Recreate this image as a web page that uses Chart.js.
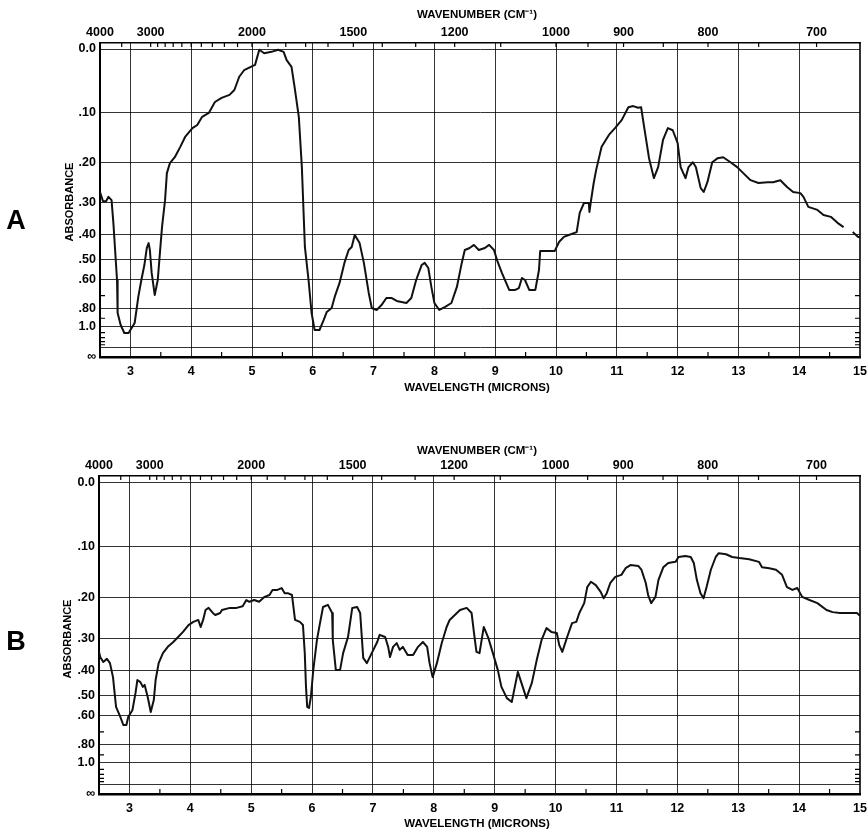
<!DOCTYPE html>
<html>
<head>
<meta charset="utf-8">
<script src="https://cdn.jsdelivr.net/npm/chart.js@4.4.1/dist/chart.umd.min.js"></script>
<style>
  html, body { margin: 0; padding: 0; background: #fff; }
  #wrap { position: relative; width: 868px; height: 833px; }
  canvas { position: absolute; left: 0; }
  #chartA { top: 0; }
  #chartB { top: 420px; }
</style>
</head>
<body>
<div id="wrap">
  <canvas id="chartA" width="868" height="420"></canvas>
  <canvas id="chartB" width="868" height="413"></canvas>
</div>
<script>
// spectrum A (wavelength in microns, absorbance)
const wavelengthA = [
  2.50, 2.55, 2.60, 2.64, 2.69, 2.72, 2.78, 2.79, 2.84, 2.90,
  2.97, 3.03, 3.07, 3.13, 3.18, 3.23, 3.27, 3.30, 3.32, 3.35,
  3.40, 3.45, 3.48, 3.52, 3.57, 3.60, 3.65, 3.73, 3.82, 3.90,
  4.02, 4.10, 4.18, 4.29, 4.39, 4.50, 4.63, 4.71, 4.79, 4.87,
  4.98, 5.05, 5.12, 5.20, 5.32, 5.43, 5.52, 5.57, 5.65, 5.70,
  5.77, 5.82, 5.87, 5.93, 5.98, 6.03, 6.11, 6.18, 6.23, 6.31,
  6.36, 6.44, 6.52, 6.59, 6.64, 6.69, 6.72, 6.77, 6.84, 6.92,
  6.97, 7.05, 7.13, 7.21, 7.30, 7.38, 7.46, 7.54, 7.62, 7.70,
  7.79, 7.84, 7.90, 7.95, 8.00, 8.08, 8.17, 8.28, 8.37, 8.45,
  8.50, 8.58, 8.65, 8.73, 8.83, 8.90, 8.98, 9.03, 9.11, 9.23,
  9.33, 9.39, 9.44, 9.49, 9.56, 9.66, 9.72, 9.74, 9.89, 9.98,
  10.05, 10.13, 10.21, 10.34, 10.39, 10.46, 10.54, 10.55, 10.57, 10.62,
  10.66, 10.75, 10.87, 10.97, 11.08, 11.19, 11.27, 11.35, 11.40, 11.45,
  11.53, 11.61, 11.68, 11.76, 11.84, 11.92, 12.00, 12.05, 12.13, 12.18,
  12.25, 12.30, 12.38, 12.43, 12.49, 12.57, 12.66, 12.75, 12.87, 12.98,
  13.08, 13.20, 13.33, 13.48, 13.57, 13.69, 13.80, 13.90, 14.02, 14.07,
  14.15, 14.30, 14.40, 14.52, 14.63, 14.73, 14.80, 14.88, 14.97, 15.00
];
const absorbanceA = [
  0.271, 0.296, 0.296, 0.284, 0.293, 0.361, 0.602, 0.845, 0.983, 1.108,
  1.108, 1.011, 0.957, 0.710, 0.602, 0.525, 0.451, 0.432, 0.459, 0.564,
  0.696, 0.602, 0.489, 0.375, 0.293, 0.224, 0.201, 0.188, 0.166, 0.146,
  0.129, 0.123, 0.108, 0.101, 0.082, 0.075, 0.070, 0.062, 0.041, 0.031,
  0.026, 0.023, 0.001, 0.006, 0.004, 0.001, 0.004, 0.016, 0.026, 0.057,
  0.108, 0.210, 0.447, 0.602, 0.845, 1.057, 1.057, 0.920, 0.835, 0.798,
  0.710, 0.619, 0.515, 0.459, 0.447, 0.402, 0.413, 0.432, 0.515, 0.682,
  0.798, 0.816, 0.773, 0.718, 0.718, 0.740, 0.748, 0.756, 0.718, 0.602,
  0.525, 0.515, 0.539, 0.643, 0.756, 0.816, 0.790, 0.756, 0.643, 0.515,
  0.459, 0.451, 0.439, 0.459, 0.451, 0.439, 0.459, 0.502, 0.564, 0.662,
  0.662, 0.650, 0.591, 0.602, 0.662, 0.662, 0.549, 0.463, 0.463, 0.463,
  0.428, 0.409, 0.402, 0.392, 0.330, 0.301, 0.301, 0.327, 0.301, 0.248,
  0.217, 0.166, 0.142, 0.129, 0.114, 0.091, 0.089, 0.092, 0.091, 0.127,
  0.190, 0.236, 0.210, 0.152, 0.129, 0.133, 0.158, 0.210, 0.236, 0.210,
  0.199, 0.210, 0.261, 0.271, 0.246, 0.199, 0.190, 0.188, 0.199, 0.210,
  0.224, 0.241, 0.248, 0.246, 0.246, 0.241, 0.258, 0.271, 0.274, 0.284,
  0.312, 0.321, 0.336, 0.342, 0.361, 0.375, null, 0.392, 0.409, 0.409
];

// spectrum B
const wavelengthB = [
  2.50, 2.52, 2.57, 2.63, 2.68, 2.73, 2.78, 2.85, 2.90, 2.95,
  2.98, 3.05, 3.10, 3.13, 3.18, 3.22, 3.25, 3.30, 3.35, 3.40,
  3.43, 3.48, 3.55, 3.63, 3.72, 3.80, 3.88, 3.97, 4.05, 4.13,
  4.17, 4.21, 4.25, 4.30, 4.37, 4.41, 4.49, 4.52, 4.65, 4.76,
  4.86, 4.92, 4.97, 5.05, 5.13, 5.22, 5.30, 5.35, 5.43, 5.50,
  5.55, 5.60, 5.67, 5.72, 5.80, 5.85, 5.88, 5.90, 5.92, 5.95,
  5.98, 6.02, 6.08, 6.13, 6.18, 6.26, 6.33, 6.34, 6.39, 6.46,
  6.51, 6.59, 6.66, 6.74, 6.79, 6.82, 6.84, 6.90, 6.98, 7.07,
  7.11, 7.20, 7.25, 7.28, 7.33, 7.39, 7.44, 7.49, 7.57, 7.66,
  7.74, 7.82, 7.89, 7.93, 7.98, 8.05, 8.13, 8.21, 8.26, 8.43,
  8.54, 8.62, 8.66, 8.70, 8.75, 8.82, 8.89, 8.97, 9.05, 9.11,
  9.20, 9.28, 9.33, 9.38, 9.46, 9.52, 9.61, 9.69, 9.77, 9.85,
  9.93, 10.02, 10.06, 10.11, 10.19, 10.27, 10.34, 10.39, 10.47, 10.52,
  10.58, 10.66, 10.74, 10.79, 10.84, 10.90, 10.98, 11.08, 11.15, 11.23,
  11.36, 11.41, 11.48, 11.52, 11.57, 11.64, 11.69, 11.77, 11.85, 11.97,
  12.02, 12.13, 12.22, 12.27, 12.32, 12.38, 12.43, 12.48, 12.55, 12.63,
  12.68, 12.80, 12.90, 13.02, 13.18, 13.34, 13.39, 13.51, 13.62, 13.72,
  13.80, 13.89, 13.97, 14.05, 14.17, 14.30, 14.45, 14.55, 14.67, 14.83,
  14.95, 15.00
];
const absorbanceB = [
  0.340, 0.356, 0.372, 0.362, 0.376, 0.425, 0.553, 0.606, 0.654, 0.654,
  0.606, 0.568, 0.488, 0.436, 0.444, 0.463, 0.455, 0.506, 0.579, 0.520,
  0.436, 0.376, 0.344, 0.325, 0.311, 0.297, 0.283, 0.265, 0.257, 0.252,
  0.270, 0.252, 0.228, 0.223, 0.235, 0.240, 0.235, 0.228, 0.223, 0.223,
  0.219, 0.205, 0.209, 0.205, 0.209, 0.198, 0.194, 0.183, 0.183, 0.179,
  0.190, 0.190, 0.194, 0.252, 0.257, 0.265, 0.344, 0.463, 0.553, 0.558,
  0.506, 0.399, 0.305, 0.260, 0.221, 0.216, 0.235, 0.305, 0.399, 0.399,
  0.344, 0.297, 0.223, 0.221, 0.235, 0.305, 0.359, 0.376, 0.344, 0.311,
  0.291, 0.297, 0.325, 0.356, 0.325, 0.314, 0.334, 0.325, 0.350, 0.350,
  0.325, 0.311, 0.325, 0.376, 0.425, 0.376, 0.314, 0.270, 0.252, 0.228,
  0.223, 0.235, 0.286, 0.340, 0.344, 0.270, 0.297, 0.344, 0.399, 0.463,
  0.511, 0.529, 0.463, 0.406, 0.463, 0.511, 0.447, 0.366, 0.305, 0.273,
  0.283, 0.286, 0.320, 0.340, 0.297, 0.260, 0.257, 0.235, 0.212, 0.177,
  0.166, 0.173, 0.187, 0.201, 0.190, 0.168, 0.156, 0.152, 0.139, 0.133,
  0.135, 0.142, 0.168, 0.194, 0.212, 0.198, 0.162, 0.137, 0.129, 0.127,
  0.118, 0.116, 0.118, 0.129, 0.162, 0.190, 0.201, 0.177, 0.142, 0.118,
  0.111, 0.113, 0.118, 0.120, 0.122, 0.127, 0.137, 0.139, 0.142, 0.152,
  0.177, 0.183, 0.179, 0.198, 0.205, 0.212, 0.228, 0.233, 0.235, 0.235,
  0.235, 0.242
];

// axis ticks
const micronTicks = [3, 4, 5, 6, 7, 8, 9, 10, 11, 12, 13, 14, 15];
const micronMinor = [3.5, 4.5, 5.5, 6.5, 7.5, 8.5, 9.5, 10.5, 11.5, 12.5, 13.5, 14.5];
const wavenumberTicks = [4000, 3000, 2000, 1500, 1200, 1000, 900, 800, 700];
const wavenumberMinor = [3500, 2900, 2800, 2700, 2600, 2500, 2400, 2300, 2200, 2100,
  1900, 1800, 1700, 1600, 1400, 1300, 1100, 950, 850, 750];
const absTicks = [0, 0.1, 0.2, 0.3, 0.4, 0.5, 0.6, 0.8, 1.0, 1.5];
const absLabels = ['0.0', '.10', '.20', '.30', '.40', '.50', '.60', '.80', '1.0', ''];
const absMinor = [0.7, 0.9, 1.1, 1.2, 1.3, 1.4];

const fontFamily = '"Liberation Sans", Arial, sans-serif';
const gridColor = 'rgba(0,0,0,0.8)';

// the paper is linear in transmittance, labelled in absorbance
function toTransmittance(a) {
    return a === null ? null : Math.pow(10, -a);
}

function absLabel(value) {
    if (value < 1e-6) return '\u221E';
    for (let i = 0; i < absTicks.length; i++) {
        if (Math.abs(toTransmittance(absTicks[i]) - value) < 1e-6) return absLabels[i];
    }
    return '';
}

 // draws the small inward tick marks along the frame
const minorTicks = {
    id: 'minorTicks',
    afterDraw(chart) {
        const ctx = chart.ctx;
        const area = chart.chartArea;
        const x = chart.scales.x;
        const y = chart.scales.y;
        ctx.save();
        ctx.strokeStyle = '#000';
        ctx.lineWidth = 1.2;
        ctx.beginPath();
        micronMinor.forEach(v => {
            const px = x.getPixelForValue(v);
            ctx.moveTo(px, area.bottom);
            ctx.lineTo(px, area.bottom - 5);
        });
        wavenumberTicks.concat(wavenumberMinor).forEach(w => {
            const px = x.getPixelForValue(10000 / w);
            ctx.moveTo(px, area.top);
            ctx.lineTo(px, area.top + 4);
        });
        absMinor.forEach(a => {
            const py = y.getPixelForValue(toTransmittance(a));
            ctx.moveTo(area.left, py);
            ctx.lineTo(area.left + 5, py);
            ctx.moveTo(area.right, py);
            ctx.lineTo(area.right - 5, py);
        });
        ctx.stroke();
        ctx.restore();
    }
};

 // axis titles and the panel letter
const panelText = {
    id: 'panelText',
    afterDraw(chart, args, opts) {
        const ctx = chart.ctx;
        ctx.save();
        ctx.fillStyle = '#000';
        ctx.textAlign = 'center';
        ctx.textBaseline = 'middle';
        ctx.font = 'bold 27px ' + fontFamily;
        ctx.fillText(opts.letter, opts.letterX, opts.letterY);
        ctx.font = 'bold 11.5px ' + fontFamily;
        ctx.fillText('WAVENUMBER (CM\u207B\u00B9)', opts.titleX, opts.topTitleY);
        ctx.fillText('WAVELENGTH (MICRONS)', opts.titleX, opts.bottomTitleY);
        ctx.translate(opts.absX, opts.absY);
        ctx.rotate(-Math.PI / 2);
        ctx.font = 'bold 11px ' + fontFamily;
        ctx.fillText('ABSORBANCE', 0, 0);
        ctx.restore();
    }
};

function makePanel(canvasId, xs, ys, box, text) {
    const points = xs.map((x, i) => ({ x: x, y: toTransmittance(ys[i]) }));
    const tickFont = { family: fontFamily, size: 12.5, weight: 'bold' };
    return new Chart(document.getElementById(canvasId), {
        type: 'line',
        data: {
            datasets: [{
                data: points,
                borderColor: '#111',
                borderWidth: 2,
                borderJoinStyle: 'round',
                pointRadius: 0,
                tension: 0,
                spanGaps: false,
                fill: false
            }]
        },
        options: {
            responsive: false,
            animation: false,
            events: [],
            layout: { padding: { left: 0, right: box.right, top: 0, bottom: 0 } },
            plugins: {
                legend: { display: false },
                tooltip: { enabled: false },
                panelText: text
            },
            scales: {
                x: {
                    type: 'linear',
                    position: 'bottom',
                    min: 2.5,
                    max: 15,
                    afterBuildTicks: s => { s.ticks = micronTicks.map(v => ({ value: v })); },
                    afterFit: s => { s.height = box.bottomH; s.paddingLeft = 0; s.paddingRight = 0; },
                    grid: {
                        color: gridColor,
                        lineWidth: c => (c.tick && c.tick.value === 15 ? 2 : 1),
                        drawTicks: false
                    },
                    border: { color: '#000', width: 2.5 },
                    ticks: {
                        padding: 7, font: tickFont, color: '#000',
                        autoSkip: false, maxRotation: 0,
                        callback: v => String(v)
                    }
                },
                x2: {
                    type: 'linear',
                    position: 'top',
                    min: 2.5,
                    max: 15,
                    afterBuildTicks: s => { s.ticks = wavenumberTicks.map(w => ({ value: 10000 / w })); },
                    afterFit: s => { s.height = box.top; s.paddingLeft = 0; s.paddingRight = 0; },
                    grid: { drawOnChartArea: false, drawTicks: false },
                    border: { color: '#000', width: 1.5 },
                    ticks: {
                        padding: 3, font: tickFont, color: '#000',
                        autoSkip: false, maxRotation: 0,
                        callback: v => String(Math.round(10000 / v))
                    }
                },
                y: {
                    type: 'linear',
                    min: 0,
                    max: box.yMax,
                    afterBuildTicks: s => {
                        s.ticks = [{ value: 0 }].concat(absTicks.slice().reverse().map(a => ({ value: toTransmittance(a) })));
                    },
                    afterFit: s => { s.width = box.left; },
                    grid: { color: gridColor, lineWidth: 1, drawTicks: false },
                    border: { color: '#000', width: 2 },
                    ticks: {
                        padding: 4, font: tickFont, color: '#000',
                        autoSkip: false,
                        callback: v => absLabel(v)
                    }
                }
            }
        },
        plugins: [minorTicks, panelText]
    });
}

makePanel('chartA', wavelengthA, absorbanceA,
    { left: 100, right: 8, top: 43, bottomH: 63, yMax: 1.0195 },
    { letter: 'A', letterX: 16, letterY: 222, titleX: 477, topTitleY: 15, bottomTitleY: 388, absX: 70, absY: 202 });

makePanel('chartB', wavelengthB, absorbanceB,
    { left: 99, right: 8, top: 56, bottomH: 39, yMax: 1.0225 },
    { letter: 'B', letterX: 16, letterY: 223, titleX: 477, topTitleY: 31, bottomTitleY: 404, absX: 68, absY: 219 });
</script>
</body>
</html>
